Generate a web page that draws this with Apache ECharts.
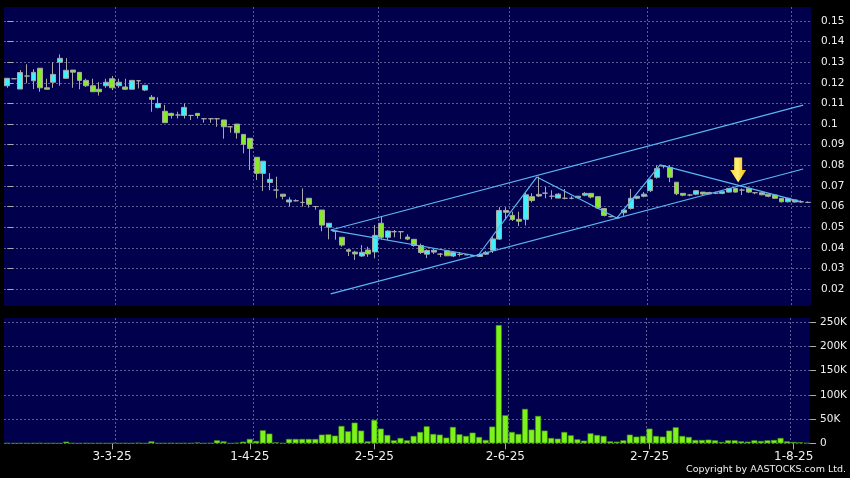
<!DOCTYPE html>
<html>
<head>
<meta charset="utf-8">
<script src="https://cdn.jsdelivr.net/npm/echarts@6/dist/echarts.min.js"></script>
<style>
html,body{margin:0;padding:0;background:#000;}
#c{width:850px;height:478px;}
</style>
</head>
<body>
<div id="c"></div>
<script>
const dates = [
'7-2-25','10-2-25','11-2-25','12-2-25','13-2-25','14-2-25','17-2-25','18-2-25','19-2-25','20-2-25','21-2-25','24-2-25','25-2-25','26-2-25','27-2-25','28-2-25',
'3-3-25','4-3-25','5-3-25','6-3-25','7-3-25','10-3-25','11-3-25','12-3-25','13-3-25','14-3-25','17-3-25','18-3-25','19-3-25','20-3-25','21-3-25','24-3-25','25-3-25','26-3-25','27-3-25','28-3-25','31-3-25',
'1-4-25','2-4-25','3-4-25','7-4-25','8-4-25','9-4-25','10-4-25','11-4-25','14-4-25','15-4-25','16-4-25','17-4-25','22-4-25','23-4-25','24-4-25','25-4-25','28-4-25','29-4-25','30-4-25',
'2-5-25','6-5-25','7-5-25','8-5-25','9-5-25','12-5-25','13-5-25','14-5-25','15-5-25','16-5-25','19-5-25','20-5-25','21-5-25','22-5-25','23-5-25','26-5-25','27-5-25','28-5-25','29-5-25','30-5-25',
'2-6-25','3-6-25','4-6-25','5-6-25','6-6-25','9-6-25','10-6-25','11-6-25','12-6-25','13-6-25','16-6-25','17-6-25','18-6-25','19-6-25','20-6-25','23-6-25','24-6-25','25-6-25','26-6-25','27-6-25','30-6-25',
'1-7-25','2-7-25','3-7-25','4-7-25','7-7-25','8-7-25','9-7-25','10-7-25','11-7-25','14-7-25','15-7-25','16-7-25','17-7-25','18-7-25','21-7-25','22-7-25','23-7-25','24-7-25','25-7-25','28-7-25','29-7-25','30-7-25','31-7-25',
'1-8-25','4-8-25','5-8-25'
];
const opens = [
0.1186,0.1220,0.1170,0.1233,0.1210,0.1271,0.1176,0.1203,0.1300,0.1222,0.1262,0.1251,0.1212,0.1186,0.1169,0.1186,
0.1220,0.1186,0.1180,0.1169,0.1210,0.1165,0.1130,0.1080,0.1062,0.1052,0.1044,0.1042,0.1042,0.1052,0.1026,0.1026,0.1026,0.1020,0.0987,0.1000,0.0950,
0.0931,0.0839,0.0761,0.0717,0.0680,0.0660,0.0622,0.0628,0.0620,0.0640,0.0600,0.0583,0.0500,0.0481,0.0451,0.0390,0.0379,0.0360,0.0389,
0.0380,0.0519,0.0451,0.0478,0.0478,0.0452,0.0441,0.0411,0.0369,0.0379,0.0369,0.0385,0.0360,0.0368,0.0366,0.0362,0.0358,0.0369,0.0388,0.0442,
0.0581,0.0557,0.0538,0.0538,0.0648,0.0651,0.0665,0.0650,0.0641,0.0640,0.0640,0.0643,0.0655,0.0664,0.0648,0.0590,0.0551,0.0545,0.0570,0.0591,0.0640,
0.0650,0.0677,0.0742,0.0797,0.0790,0.0718,0.0664,0.0656,0.0660,0.0670,0.0668,0.0665,0.0664,0.0670,0.0688,0.0680,0.0688,0.0667,0.0667,0.0660,0.0656,0.0640,0.0623,
0.0632,0.0623,0.0620
];
const closes = [
0.1222,0.1220,0.1250,0.1233,0.1251,0.1176,0.1169,0.1241,0.1319,0.1261,0.1252,0.1212,0.1186,0.1157,0.1157,0.1203,
0.1176,0.1203,0.1169,0.1212,0.1210,0.1188,0.1120,0.1100,0.1007,0.1042,0.1044,0.1081,0.1042,0.1042,0.1026,0.1026,0.1026,0.0987,0.0987,0.0958,0.0902,
0.0882,0.0761,0.0820,0.0732,0.0680,0.0650,0.0632,0.0628,0.0620,0.0611,0.0600,0.0510,0.0519,0.0481,0.0413,0.0383,0.0370,0.0378,0.0370,
0.0460,0.0451,0.0481,0.0478,0.0478,0.0442,0.0411,0.0377,0.0387,0.0388,0.0369,0.0361,0.0378,0.0368,0.0366,0.0362,0.0367,0.0378,0.0443,0.0581,
0.0572,0.0537,0.0529,0.0657,0.0629,0.0659,0.0665,0.0650,0.0660,0.0640,0.0640,0.0650,0.0664,0.0646,0.0593,0.0557,0.0551,0.0545,0.0583,0.0640,0.0650,
0.0660,0.0730,0.0784,0.0797,0.0742,0.0662,0.0655,0.0656,0.0677,0.0661,0.0661,0.0665,0.0672,0.0688,0.0670,0.0680,0.0670,0.0667,0.0657,0.0650,0.0640,0.0623,0.0640,
0.0622,0.0623,0.0620
];
const lows = [
0.1176,0.1220,0.1170,0.1198,0.1170,0.1157,0.1169,0.1176,0.1186,0.1222,0.1176,0.1169,0.1180,0.1157,0.1138,0.1176,
0.1165,0.1176,0.1165,0.1169,0.1173,0.1160,0.1060,0.1076,0.1007,0.1027,0.1027,0.1027,0.1020,0.1027,0.1007,0.1007,0.0987,0.0929,0.0958,0.0929,0.0858,
0.0777,0.0729,0.0675,0.0680,0.0640,0.0635,0.0600,0.0625,0.0600,0.0595,0.0585,0.0480,0.0441,0.0439,0.0405,0.0360,0.0341,0.0356,0.0356,
0.0349,0.0441,0.0437,0.0451,0.0442,0.0437,0.0405,0.0370,0.0350,0.0370,0.0355,0.0361,0.0355,0.0358,0.0366,0.0362,0.0355,0.0365,0.0375,0.0438,
0.0535,0.0530,0.0505,0.0508,0.0620,0.0646,0.0640,0.0635,0.0640,0.0635,0.0635,0.0640,0.0650,0.0640,0.0590,0.0552,0.0548,0.0540,0.0555,0.0585,0.0635,
0.0645,0.0670,0.0735,0.0785,0.0718,0.0655,0.0650,0.0650,0.0655,0.0655,0.0660,0.0660,0.0660,0.0668,0.0668,0.0656,0.0665,0.0660,0.0655,0.0645,0.0638,0.0620,0.0620,
0.0620,0.0618,0.0617
];
const highs = [
0.1224,0.1220,0.1262,0.1290,0.1266,0.1271,0.1220,0.1300,0.1338,0.1320,0.1262,0.1251,0.1220,0.1220,0.1203,0.1220,
0.1233,0.1220,0.1220,0.1212,0.1210,0.1188,0.1141,0.1130,0.1093,0.1055,0.1060,0.1100,0.1042,0.1052,0.1026,0.1026,0.1026,0.1020,0.0987,0.1000,0.0950,
0.0931,0.0839,0.0820,0.0762,0.0745,0.0660,0.0645,0.0635,0.0688,0.0640,0.0600,0.0583,0.0519,0.0481,0.0451,0.0394,0.0385,0.0413,0.0405,
0.0510,0.0551,0.0485,0.0486,0.0478,0.0465,0.0441,0.0420,0.0392,0.0395,0.0375,0.0390,0.0380,0.0378,0.0366,0.0362,0.0367,0.0385,0.0455,0.0597,
0.0597,0.0575,0.0575,0.0668,0.0665,0.0745,0.0696,0.0679,0.0665,0.0685,0.0650,0.0650,0.0670,0.0664,0.0648,0.0590,0.0551,0.0552,0.0583,0.0685,0.0650,
0.0670,0.0735,0.0801,0.0801,0.0801,0.0718,0.0664,0.0660,0.0677,0.0670,0.0672,0.0672,0.0672,0.0688,0.0690,0.0688,0.0688,0.0670,0.0667,0.0660,0.0656,0.0640,0.0640,
0.0632,0.0630,0.0625
];
const volumes = [
300,0,200,0,200,300,0,200,0,3400,200,0,300,0,200,0,
200,0,300,0,800,0,4100,300,200,300,200,300,200,1500,0,300,6200,4100,0,900,3400,
9000,4800,26900,20000,2000,500,9000,9000,9000,9000,9000,17900,18600,15800,35800,24800,42700,26200,4100,
48200,30300,17200,6200,11000,6200,15200,23400,35100,19300,17900,11700,33800,18600,15200,22000,13100,6900,34500,244000,
57900,23400,19300,71000,28300,56500,26200,11000,9600,23400,16500,8300,5500,20700,17200,15200,4100,3400,6200,17900,13800,
15200,30300,15200,13800,26200,33100,15200,13100,6900,6900,7600,6200,2800,6200,6200,4100,3400,6200,4800,6200,6900,11000,4100,
2800,2000,700
];
const labelDates = ['3-3-25','1-4-25','2-5-25','2-6-25','2-7-25','1-8-25'];
const gridDates = ['4-3-25','2-4-25','6-5-25','3-6-25','2-7-25','1-8-25'];
const priceTicks = ['0.02','0.03','0.04','0.05','0.06','0.07','0.08','0.09','0.1','0.11','0.12','0.13','0.14','0.15'];
const channelUpper = [[49.3, 0.0486], [121.3, 0.1092]];
const channelLower = [[49.3, 0.0176], [121.3, 0.0782]];
const zigzag = [[49.3, 0.0486], [71.7, 0.0360], [80.7, 0.0743], [92.9, 0.0544], [99.5, 0.0802], [121.1, 0.0623]];
const arrowMark = [[111.4, 0.0777]];

const candleData = opens.map((o, i) => [o, closes[i], lows[i], highs[i]]);

const FONT = 'DejaVu Sans';
const GRIDC = '#5c5c92';
const gridLineStyle = { color: GRIDC, type: [2, 2], width: 1 };
// vertical lines: one colour per drawn date line, the trailing band-end line kept invisible
const vLineColors = gridDates.map(() => GRIDC).concat(['rgba(0,0,0,0)']);
const chart = echarts.init(document.getElementById('c'), null, { renderer: 'canvas' });

const catAxis = (gi, showLabels) => ({
  type: 'category', gridIndex: gi, data: dates, boundaryGap: true,
  axisLine: { show: false },
  axisTick: showLabels ? { show: true, alignWithLabel: true, length: 6, lineStyle: { color: '#aaaaaa' },
            interval: (i, v) => labelDates.includes(v) } : { show: false },
  axisLabel: showLabels ? { show: true, color: '#f0f0f0', fontFamily: FONT, fontSize: 12, margin: 8,
            interval: (i, v) => labelDates.includes(v) } : { show: false },
  splitLine: { show: true, interval: (i, v) => gridDates.includes(v),
            lineStyle: { color: vLineColors, type: [2, 2], width: 1 } }
});

const trend = (data) => ({
  type: 'line', xAxisIndex: 2, yAxisIndex: 0, data: data, symbol: 'none', silent: true, z: 5,
  lineStyle: { color: '#5ab6f2', width: 1.2 }
});

chart.setOption({
  animation: false,
  backgroundColor: '#000000',
  textStyle: { fontFamily: FONT },
  title: { text: 'Copyright by AASTOCKS.com Ltd.', right: 4, top: 465, padding: 0,
    textStyle: { color: '#f0f0f0', fontSize: 9.5, fontWeight: 'normal', fontFamily: FONT } },
  grid: [
    { left: 4, right: 39, top: 7, height: 299, show: true, backgroundColor: '#00004c', borderWidth: 0 },
    { left: 4, right: 39, top: 318, height: 125.3, show: true, backgroundColor: '#00004c', borderWidth: 0 }
  ],
  xAxis: [
    catAxis(0, false),
    catAxis(1, true),
    { type: 'value', gridIndex: 0, min: -0.5, max: 122.5, show: false }
  ],
  yAxis: [
    { type: 'value', gridIndex: 0, position: 'right', min: 0.01175, max: 0.1568,
      splitNumber: 15, minInterval: 0.01, maxInterval: 0.01,
      axisLine: { show: false },
      axisTick: { show: true, length: 6, lineStyle: { color: '#aaaaaa' } },
      axisLabel: { color: '#f0f0f0', fontFamily: FONT, fontSize: 10.5, margin: 10,
        showMinLabel: false, showMaxLabel: false,
        formatter: (v) => { const s = String(Math.round(v * 100) / 100); return priceTicks.includes(s) ? s : ''; } },
      splitLine: { show: true, showMinLine: false, showMaxLine: false, lineStyle: gridLineStyle }
    },
    { type: 'value', gridIndex: 1, position: 'right', min: 0, max: 258500, interval: 50000,
      axisLine: { show: false },
      axisTick: { show: true, length: 6, lineStyle: { color: '#aaaaaa' } },
      axisLabel: { color: '#f0f0f0', fontFamily: FONT, fontSize: 10.5, margin: 10, showMaxLabel: false,
        formatter: (v) => v === 0 ? '0' : (v / 1000) + 'K' },
      splitLine: { show: true, showMaxLine: false, lineStyle: gridLineStyle }
    }
  ],
  series: [
    { type: 'candlestick', xAxisIndex: 0, yAxisIndex: 0, data: candleData, barWidth: 5.4,
      itemStyle: { color: '#3ff0fa', color0: '#88ea2a', borderColor: '#a8a8a8', borderColor0: '#a8a8a8',
        borderColorDoji: '#a8a8a8', borderWidth: 1 } },
    trend(channelUpper),
    trend(channelLower),
    trend(zigzag),
    { type: 'scatter', xAxisIndex: 2, yAxisIndex: 0, data: arrowMark, z: 6, silent: true,
      symbol: 'path://M4,0 L12,0 L12,12 L16,12 L8,24 L0,12 L4,12 Z', symbolSize: [16, 25],
      itemStyle: { opacity: 1, color: { type: 'linear', x: 0, y: 0, x2: 1, y2: 0,
        colorStops: [{ offset: 0, color: '#ffd21a' }, { offset: 0.45, color: '#fff27a' }, { offset: 1, color: '#f5b400' }] } } },
    { type: 'bar', xAxisIndex: 1, yAxisIndex: 1, data: volumes, barWidth: 6,
      itemStyle: { color: '#7cf41c', borderColor: '#3f8a0a', borderWidth: 0.6 } }
  ]
});
</script>
</body>
</html>
